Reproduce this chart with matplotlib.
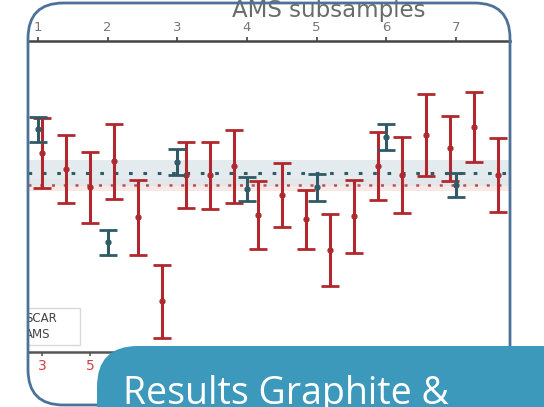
import matplotlib
matplotlib.use("Agg")
import matplotlib.pyplot as plt
from matplotlib.patches import FancyBboxPatch, Rectangle

# ---- data (arbitrary y units) ----
scar_x = list(range(3, 23))
scar_y = [4.7, 3.1, 1.3, 3.9, -1.7, -10.1, 2.5, 2.5, 3.4, -1.5,
          0.5, -1.9, -5.0, -1.6, 3.4, 2.5, 6.5, 5.2, 7.3, 2.5]
scar_err = [3.5, 3.4, 3.55, 3.75, 3.75, 3.65, 3.3, 3.35, 3.65, 3.4,
            3.2, 2.95, 3.6, 3.65, 3.4, 3.8, 4.1, 3.25, 3.5, 3.7]
ams_x = [1, 2, 3, 4, 5, 6, 7]
ams_y = [7.1, -4.2, 3.8, 1.1, 1.3, 6.3, 1.5]
ams_err = [1.25, 1.25, 1.3, 1.2, 1.35, 1.3, 1.2]
ams_mean = 2.7
ams_band = (1.4, 4.0)
scar_mean = 1.5
scar_band = (0.9, 2.1)
bottom_ticks = [3, 5, 7, 9, 11, 13, 15, 17, 19, 21]
top_ticks = [1, 2, 3, 4, 5, 6, 7]
legend_labels = ["SCAR", "AMS"]
top_label = "AMS subsamples"
banner_text = "Results Graphite &"

RED = "#b0282d"
TEAL = "#2f5a66"
W, H = 544, 407

fig = plt.figure(figsize=(W / 100, H / 100), dpi=100)
fig.patch.set_facecolor("white")

def fx(px):
    return px / W

def fy(py):
    return 1 - py / H

ax = fig.add_axes([fx(28), fy(352), fx(510) - fx(28), fy(41) - fy(352)])
ax.set_xlim(2.42, 22.5)
ax.set_ylim(-15.2, 15.9)
ax.set_facecolor("white")

# bands and mean lines
ax.axhspan(scar_band[0], scar_band[1], color="#f7e4e0", alpha=0.8, lw=0, zorder=0)
ax.axhspan(ams_band[0], ams_band[1], color="#dde7ec", alpha=0.8, lw=0, zorder=0)
ax.axhline(ams_mean, color=TEAL, ls=(0, (1.2, 3.5)), lw=2.2, zorder=1)
ax.axhline(scar_mean, color=RED, ls=(0, (1.2, 3.5)), lw=1.8, alpha=0.8, zorder=1)

ax.errorbar(scar_x, scar_y, yerr=scar_err, fmt="o", ms=3.5, color=RED,
            ecolor=RED, elinewidth=2.2, capsize=6.5, capthick=2.0, zorder=3)
ax.set_xticks(bottom_ticks)
ax.tick_params(axis="x", colors="#555555", labelcolor="#d04040", labelsize=10,
               length=3, width=1.2, pad=2)
ax.set_yticks([])
for s in ["left", "right"]:
    ax.spines[s].set_visible(False)
ax.spines["bottom"].set_color("#555555")
ax.spines["bottom"].set_linewidth(1.8)
ax.spines["top"].set_visible(False)

ax2 = ax.twiny()
ax2.set_xlim(0.856, 7.775)
ax2.errorbar(ams_x, ams_y, yerr=ams_err, fmt="o", ms=3.5, color=TEAL,
             ecolor=TEAL, elinewidth=2.2, capsize=6.5, capthick=2.0, zorder=4)
ax2.set_xticks(top_ticks)
ax2.tick_params(axis="x", colors="#444444", labelcolor="#777777", labelsize=9.5,
                length=3, width=1.2, pad=2)
for s in ["left", "right", "bottom"]:
    ax2.spines[s].set_visible(False)
ax2.spines["top"].set_color("#444444")
ax2.spines["top"].set_linewidth(1.8)

# top axis title (partly hidden by the frame, as in the source)
fig.text(fx(329), fy(17), top_label, fontsize=16.5, color="#6b6b6b",
         ha="center", va="baseline", zorder=5)

# legend box (partially cropped by frame)
fig.patches.append(Rectangle((fx(20), fy(345)), fx(80) - fx(20), fy(308) - fy(345),
                             transform=fig.transFigure, facecolor="white",
                             edgecolor="#d8d8d8", lw=1.0, zorder=5))
fig.text(fx(25), fy(318), legend_labels[0], fontsize=8.5, color="#444444",
         va="center", ha="left", zorder=6)
fig.text(fx(25), fy(335), legend_labels[1], fontsize=8.5, color="#444444",
         va="center", ha="left", zorder=6)

# mask outside of the rounded frame on left
fig.patches.append(Rectangle((0, 0), fx(28), 1, transform=fig.transFigure,
                             facecolor="white", edgecolor="none", zorder=7))

# rounded frame
frame = FancyBboxPatch((fx(28), fy(405)), fx(510) - fx(28), fy(3) - fy(405),
                       boxstyle="round,pad=0,rounding_size=0.065",
                       transform=fig.transFigure, facecolor="none",
                       edgecolor="#4d7299", lw=2.0, zorder=8,
                       mutation_aspect=W / H)
fig.patches.append(frame)

# teal banner
banner = FancyBboxPatch((fx(97), fy(470)), fx(620) - fx(97), fy(346) - fy(470),
                        boxstyle="round,pad=0,rounding_size=0.075",
                        transform=fig.transFigure, facecolor="#3c99bb",
                        edgecolor="none", zorder=9, mutation_aspect=W / H)
fig.patches.append(banner)
fig.text(fx(123), fy(404), banner_text, fontsize=27, color="white",
         family="Open Sans", ha="left", va="baseline", zorder=10)

fig.savefig("out.png", dpi=100)
